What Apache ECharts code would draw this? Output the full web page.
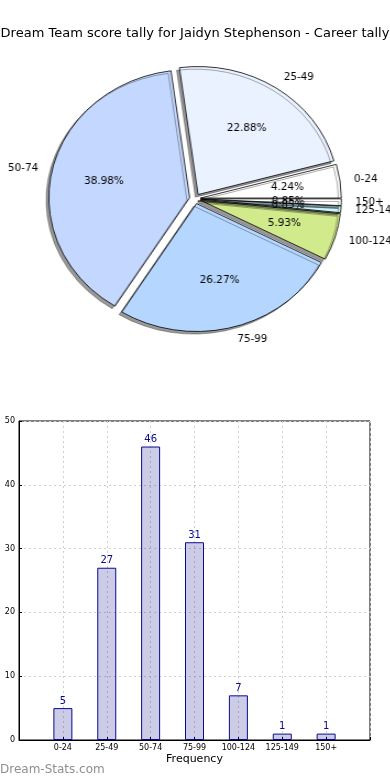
<!DOCTYPE html>
<html><head><meta charset="utf-8">
<script src="https://cdn.jsdelivr.net/npm/echarts@6/dist/echarts.min.js"></script>
<style>
html,body{margin:0;padding:0;background:#fff;overflow:hidden;}
#main{position:absolute;left:0;top:0;width:390px;height:780px;}
#pie{position:absolute;left:0;top:0;width:354.5px;height:400px;transform:scaleX(1.1);transform-origin:0 0;}
</style></head><body>
<div id="main"></div><div id="pie"></div>
<script>
const titleText = 'Dream Team score tally for Jaidyn Stephenson - Career tally';
const categories = ['0-24', '25-49', '50-74', '75-99', '100-124', '125-149', '150+'];
const counts = [5, 27, 46, 31, 7, 1, 1];
const sliceColors = ['#ffffff', '#eaf1ff', '#c4d8ff', '#b5d6ff', '#d1eb8c', '#ccf4ff', '#ffffff'];
const yTicks = [0, 10, 20, 30, 40, 50];
const xName = 'Frequency';
const watermark = 'Dream-Stats.com';

const FONT = 'DejaVu Sans';
const PIE_FONT = "'DejaVu Sans Condensed', 'DejaVu Sans'";

// ---- bar chart + title ----
const main = echarts.init(document.getElementById('main'), null, {renderer: 'canvas'});
const paddedCats = [''].concat(categories, ['']);
const paddedCounts = [null].concat(counts, [null]);
main.setOption({
  animation: false,
  backgroundColor: '#ffffff',
  title: {
    text: titleText, left: 'center', top: 22,
    textStyle: {fontFamily: FONT, fontSize: 13, fontWeight: 'normal', color: '#000'}
  },
  graphic: [{
    type: 'text', left: 0, top: 764,
    style: {text: watermark, fill: '#8f8f8f', font: '12px ' + FONT}
  }],
  grid: {left: 19, right: 20, top: 421, bottom: 40, show: true, borderColor: '#000', borderWidth: 1, backgroundColor: 'transparent'},
  xAxis: {
    type: 'category', data: paddedCats, boundaryGap: false,
    axisLine: {show: true, lineStyle: {color: '#000', width: 1}},
    axisTick: {show: true, inside: true, length: 3, lineStyle: {color: '#000'}},
    axisLabel: {interval: 0, fontFamily: FONT, fontSize: 8, color: '#000', margin: 4},
    splitLine: {show: true, lineStyle: {type: [2, 3], color: '#cfcfcf', width: 1}},
    name: xName, nameLocation: 'middle', nameGap: 14,
    nameTextStyle: {fontFamily: FONT, fontSize: 11, color: '#000'}
  },
  yAxis: {
    type: 'value', min: yTicks[0], max: yTicks[yTicks.length - 1], interval: yTicks[1] - yTicks[0],
    axisLine: {show: true, lineStyle: {color: '#000', width: 1}},
    axisTick: {show: true, inside: true, length: 3, lineStyle: {color: '#000'}},
    axisLabel: {fontFamily: FONT, fontSize: 8, color: '#000', margin: 4},
    splitLine: {show: true, lineStyle: {type: [2, 3], color: '#cfcfcf', width: 1}}
  },
  series: [{
    type: 'bar', data: paddedCounts, barWidth: 19,
    itemStyle: {color: 'rgba(0,0,128,0.2)', borderColor: '#0a0a8c', borderWidth: 1},
    label: {show: true, position: 'top', distance: 2, color: '#0a0a8c', fontFamily: FONT, fontSize: 10},
    emphasis: {disabled: true}
  }]
});

// ---- pie (horizontally stretched via container scale to give elliptical pie) ----
const pie = echarts.init(document.getElementById('pie'), null, {renderer: 'canvas'});
const R = 128;
const pieData = categories.map((c, i) => ({name: c, value: counts[i], selected: true, itemStyle: {color: sliceColors[i]}}));
const common = {
  type: 'pie', center: [177.3, 198.7], startAngle: 0, clockwise: false,
  selectedMode: 'multiple', selectedOffset: 5, avoidLabelOverlap: false,
  minAngle: 0, minShowLabelAngle: 0, emphasis: {disabled: true}, silent: true, percentPrecision: 2,
  labelLayout: {hideOverlap: false}
};
pie.setOption({
  animation: false,
  backgroundColor: 'transparent',
  series: [
    Object.assign({}, common, {
      radius: R,
      data: pieData,
      itemStyle: {borderColor: '#000', borderWidth: 0.8, shadowColor: 'rgba(0,0,0,0.4)', shadowBlur: 0, shadowOffsetX: -2.5, shadowOffsetY: 2.6},
      label: {show: true, position: 'outside', formatter: '{b}', fontFamily: PIE_FONT, fontSize: 10.5, color: '#000', distanceToLabelLine: 0},
      labelLine: {show: false, length: 0.1 * R, length2: 0}
    }),
    Object.assign({}, common, {
      radius: 1.2 * R,
      data: categories.map((c, i) => ({name: c, value: counts[i], selected: true})),
      itemStyle: {color: 'rgba(0,0,0,0)', borderWidth: 0},
      label: {show: true, position: 'inside', formatter: '{d}%', fontFamily: PIE_FONT, fontSize: 10.5, color: '#000'},
      labelLine: {show: false}
    })
  ]
});
</script>
</body></html>
